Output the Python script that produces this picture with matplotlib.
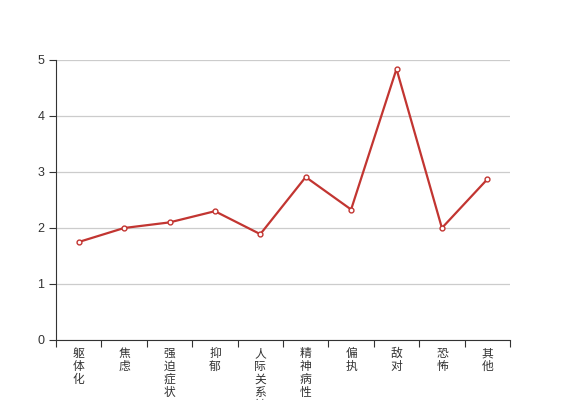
import matplotlib.pyplot as plt
import numpy as np

plt.rcParams['font.family'] = ['Noto Sans CJK SC', 'DejaVu Sans']

categories = ["躯体化", "焦虑", "强迫症状", "抑郁", "人际关系敏感",
              "精神病性", "偏执", "敌对", "恐怖", "其他"]
values = [1.75, 2.0, 2.1, 2.3, 1.89, 2.91, 2.33, 4.84, 2.0, 2.87]
yticks = [0, 1, 2, 3, 4, 5]

fig = plt.figure(figsize=(5.67, 4.0), dpi=100)
ax = fig.add_axes([56 / 567, 60 / 400, 454 / 567, 280 / 400])

x = np.arange(len(categories))
ax.plot(x, values, color="#c23531", lw=1.6, marker="o", ms=3.5,
        mfc="white", mec="#c23531", mew=1, zorder=3, clip_on=False)

ax.set_xlim(-0.5, len(categories) - 0.5)
ax.set_ylim(0, 5)
ax.set_yticks(yticks)
ax.set_yticklabels([str(v) for v in yticks], family="Liberation Sans")
ax.yaxis.grid(True, color="#cccccc", lw=0.9)
ax.set_axisbelow(True)

# ticks between categories, labels at centers (vertical stacked text)
ax.set_xticks(np.arange(-0.5, len(categories) + 0.5, 1))
ax.set_xticklabels([])
for i, c in enumerate(categories):
    ax.text(i, -0.025, "\n".join(c), transform=ax.get_xaxis_transform(),
            ha="center", va="top", fontsize=8.5, color="#333333",
            linespacing=1.0)

for s in ["top", "right"]:
    ax.spines[s].set_visible(False)
for s in ["left", "bottom"]:
    ax.spines[s].set_color("#333333")
ax.tick_params(axis="both", direction="out", length=5, color="#333333",
               labelcolor="#333333", labelsize=9)

fig.savefig("out.png", dpi=100)
